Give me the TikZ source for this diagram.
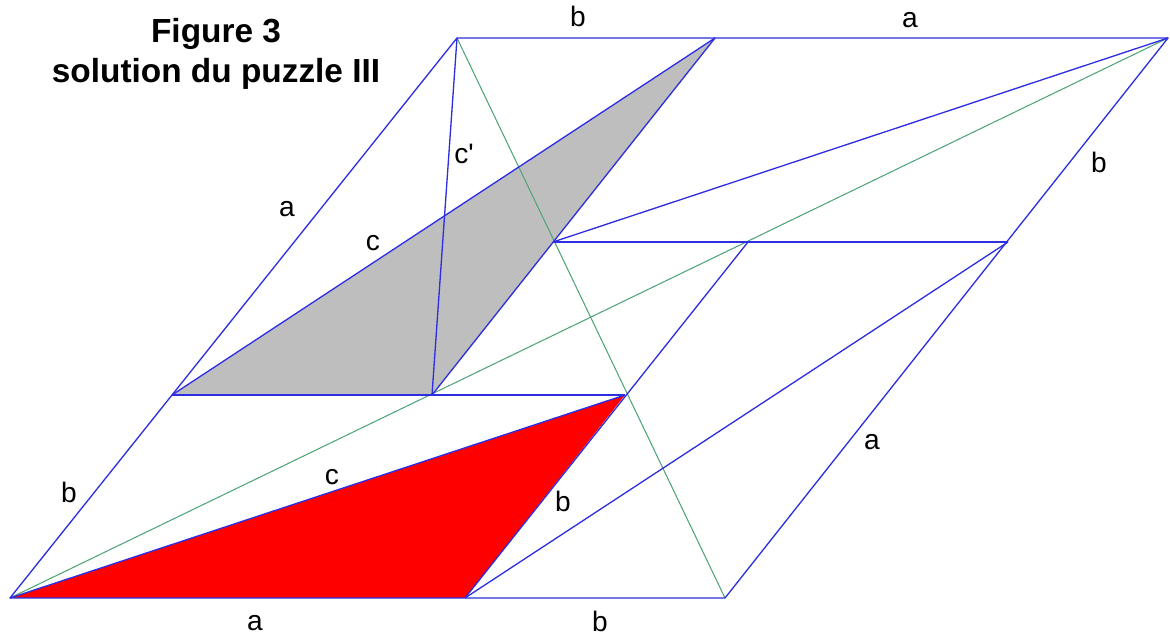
\documentclass[tikz,border=0pt]{standalone}
\usepackage{fontspec}
\setmainfont{Liberation Sans}
\newfontfamily\plainfont[Ligatures=TeXOff]{Liberation Sans}
\definecolor{edgeblue}{RGB}{45,45,225}
\definecolor{diaggreen}{RGB}{80,165,120}
\definecolor{piecegray}{RGB}{190,190,190}
\definecolor{piecered}{RGB}{255,0,0}
\begin{document}
\begin{tikzpicture}[x=0.02cm,y=-0.02cm,
  edge/.style={draw=edgeblue,line width=0.75pt,line join=round},
  diag/.style={draw=diaggreen,line width=0.6pt},
  lbl/.style={anchor=base,inner sep=0pt,font=\fontsize{16}{19}\selectfont},
  ttl/.style={anchor=base,inner sep=0pt,font=\fontsize{19}{22}\bfseries}]
\useasboundingbox (0,0) rectangle (1170,641);
% points
\coordinate (A) at (10,598);
\coordinate (B) at (465,598);
\coordinate (C) at (725,598);
\coordinate (D) at (1168,38);
\coordinate (E) at (715,38);
\coordinate (F) at (457,38);
\coordinate (G) at (172,395);
\coordinate (H) at (432,395);
\coordinate (I) at (625,395);
\coordinate (J) at (553,242);
\coordinate (K) at (748,242);
\coordinate (L) at (1008,242);
% filled pieces
\fill[piecegray] (G) -- (H) -- (E) -- cycle;
\fill[piecered] (A) -- (B) -- (I) -- cycle;
% green diagonals
\draw[diag] (A) -- (D);
\draw[diag] (F) -- (C);
% blue edges
\draw[edge] (A) -- (C) -- (D) -- (F) -- cycle;
\draw[edge] (G) -- (I);
\draw[edge] (J) -- (L);
\draw[edge] (G) -- (E);
\draw[edge] (H) -- (E);
\draw[edge] (F) -- (H);
\draw[edge] (B) -- (K);
\draw[edge] (B) -- (L);
\draw[edge] (A) -- (I);
\draw[edge] (J) -- (D);
% title
\node[ttl] (t1) at (216,43) {Figure 3};
\node[ttl] (t2) at (216,83) {solution du puzzle III};
% labels
\node[lbl] (lb1) at (578,27) {b};
\node[lbl] (la1) at (910,28) {a};
\node[lbl] (lcp) at (464,164) {\plainfont c'};
\node[lbl] (la2) at (287,217) {a};
\node[lbl] (lc1) at (373,251) {c};
\node[lbl] (lb2) at (1099,173) {b};
\node[lbl] (la3) at (872,450) {a};
\node[lbl] (lb3) at (69,503) {b};
\node[lbl] (lc2) at (332,485) {c};
\node[lbl] (lb4) at (563,512) {b};
\node[lbl] (la4) at (255,630) {a};
\node[lbl] (lb5) at (600,632) {b};
\end{tikzpicture}
\end{document}
